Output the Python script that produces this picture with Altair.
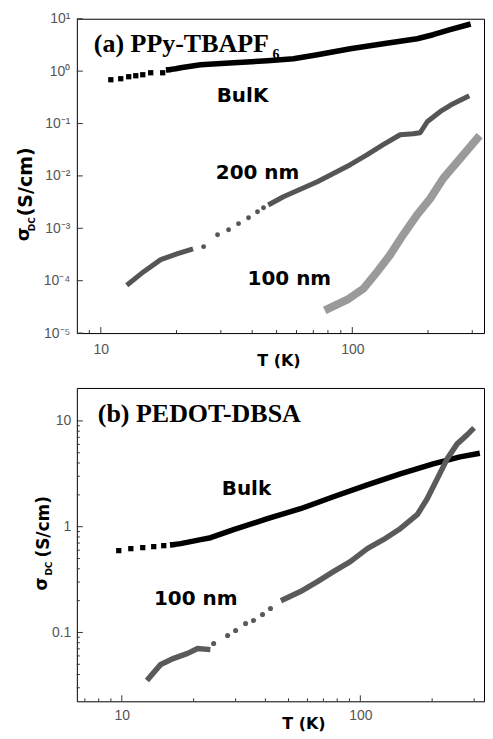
import altair as alt
import pandas as pd

# ---------------- Panel (a): PPy-TBAPF6 ----------------
a_bulk_sparse_T = [10.96, 12.0, 12.91, 13.77, 14.68, 15.79, 17.62, 18.62]
a_bulk_sparse_s = [0.685, 0.716, 0.782, 0.817, 0.853, 0.931, 0.931, 1.064]
a_bulk_T = [18.62, 19.85, 20.77, 24.94, 33.71, 45.98, 58.34, 72.62, 98.2, 132.7, 181.1, 209.5, 244.8, 288.5]
a_bulk_s = [1.064, 1.112, 1.161, 1.326, 1.445, 1.578, 1.725, 2.056, 2.675, 3.334, 4.15, 4.95, 6.17, 7.68]

a_200_T1 = [12.91, 14.81, 17.30, 20.21, 22.76]
a_200_s1 = [8.77e-5, 1.486e-4, 2.52e-4, 3.28e-4, 3.91e-4]
a_200_sparse_T = [25.63, 29.12, 32.21, 35.28, 38.67, 41.98, 44.35]
a_200_sparse_s = [4.46e-4, 7.55e-4, 9.40e-4, 1.225e-3, 1.592e-3, 2.075e-3, 2.47e-3]
a_200_T2 = [47.27, 53.22, 72.62, 98.2, 114.7, 132.7, 155.0, 174.6, 186.2, 198.6, 223.4, 251.8, 285.9]
a_200_s2 = [2.94e-3, 4.01e-3, 7.75e-3, 1.636e-2, 2.54e-2, 3.94e-2, 6.11e-2, 6.38e-2, 6.67e-2, 0.108, 0.168, 0.239, 0.324]

a_100_T = [80.3, 95.5, 110.6, 125.7, 141.5, 159.4, 181.1, 203.9, 229.6, 268.3, 313.3]
a_100_s = [2.92e-5, 4.34e-5, 7.03e-5, 1.486e-4, 3.13e-4, 7.55e-4, 1.82e-3, 3.67e-3, 8.85e-3, 2.13e-2, 5.13e-2]

a_labels = ["BulK", "200 nm", "100 nm"]
a_label_T = [36.6, 42.0, 56.2]
a_label_s = [0.34, 0.0115, 1.09e-4]

a_x_major = [10, 100]
a_x_minor = [9, 20, 30, 40, 50, 60, 70, 80, 90, 200, 300]
a_y_major = [1e-5, 1e-4, 1e-3, 1e-2, 1e-1, 1, 10]
a_y_ticklabels = ["10\u207b\u2075", "10\u207b\u2074", "10\u207b\u00b3", "10\u207b\u00b2", "10\u207b\u00b9", "10\u2070", "10\u00b9"]

# ---------------- Panel (b): PEDOT-DBSA ----------------
b_bulk_sparse_T = [9.71, 10.91, 12.24, 13.61, 14.99, 16.35]
b_bulk_sparse_s = [0.594, 0.620, 0.634, 0.648, 0.662, 0.677]
b_bulk_T = [16.35, 17.65, 21.41, 23.57, 29.42, 40.8, 56.1, 77.1, 107.0, 147.0, 202.0, 261.8, 308.8]
b_bulk_s = [0.677, 0.692, 0.754, 0.787, 0.937, 1.19, 1.479, 1.919, 2.49, 3.16, 3.93, 4.57, 4.89]

b_100_T1 = [12.97, 14.56, 16.51, 18.89, 20.8, 22.9]
b_100_s1 = [0.0368, 0.0499, 0.0569, 0.0634, 0.0706, 0.0692]
b_100_sparse_T = [24.27, 27.77, 29.99, 33.03, 35.67, 38.9, 42.0]
b_100_sparse_s = [0.0787, 0.0937, 0.1045, 0.1216, 0.1298, 0.1479, 0.1683]
b_100_T2 = [47.6, 56.1, 66.1, 77.1, 90.8, 107.0, 124.8, 147.0, 173.2, 190.7, 210.1, 231.2, 254.6, 280.4, 294.2]
b_100_s2 = [0.2047, 0.2437, 0.3029, 0.3759, 0.4677, 0.6197, 0.7534, 0.9574, 1.298, 1.837, 2.837, 4.38, 6.07, 7.38, 8.23]

b_labels = ["Bulk", "100 nm"]
b_label_T = [33.3, 20.4]
b_label_s = [2.28, 0.2094]

b_x_major = [10, 100]
b_x_minor = [7, 8, 9, 20, 30, 40, 50, 60, 70, 80, 90, 200, 300]
b_y_major = [0.1, 1, 10]
b_y_minor = [0.03, 0.04, 0.05, 0.06, 0.07, 0.08, 0.09,
             0.2, 0.3, 0.4, 0.5, 0.6, 0.7, 0.8, 0.9,
             2, 3, 4, 5, 6, 7, 8, 9]

# ---------------- layout / style ----------------
WA, HA = 408, 315
WB, HB = 408, 314
SANS = "DejaVu Sans"
LABEL_FONT = "Liberation Sans"
SERIF = "Liberation Serif"
TICK_COLOR = "#333333"


def df(T, s):
    return pd.DataFrame({"T": T, "s": s})


def build_panel(xs, ys, W, H, x_axis, y_axis, lines, points, labels, label_T, label_s,
                x_major, x_minor, y_major, y_minor, title_parts, ytitle):
    X = lambda: alt.X("T:Q", scale=xs, axis=x_axis)
    Y = lambda: alt.Y("s:Q", scale=ys, axis=y_axis)
    layers = []
    for (T, s, color, sw) in lines:
        layers.append(
            alt.Chart(df(T, s)).mark_line(color=color, strokeWidth=sw, strokeCap="square",
                                          strokeJoin="round")
            .encode(x=X(), y=Y(), order=alt.Order("T:Q"))
        )
    for (T, s, shape, color, size) in points:
        m = (alt.Chart(df(T, s)).mark_square(size=size, color=color, opacity=1)
             if shape == "square" else
             alt.Chart(df(T, s)).mark_circle(size=size, color=color, opacity=1))
        layers.append(m.encode(x=X(), y=Y()))
    # curve labels
    lab_df = pd.DataFrame({"T": label_T, "s": label_s, "t": labels})
    layers.append(
        alt.Chart(lab_df).mark_text(font=SANS, fontSize=20, fontWeight="bold", color="black",
                                    align="center", baseline="middle")
        .encode(x=X(), y=Y(), text="t:N")
    )
    # inward ticks
    for vals, ln in ((x_major, 6), (x_minor, 3)):
        if vals:
            layers.append(
                alt.Chart(pd.DataFrame({"T": vals})).mark_rule(color=TICK_COLOR, strokeWidth=1)
                .encode(x=X(), y=alt.value(H), y2=alt.value(H - ln))
            )
    for vals, ln in ((y_major, 6), (y_minor, 3)):
        if vals:
            layers.append(
                alt.Chart(pd.DataFrame({"s": vals})).mark_rule(color=TICK_COLOR, strokeWidth=1)
                .encode(y=Y(), x=alt.value(0), x2=alt.value(ln))
            )
    # panel titles and y-axis title pieces
    for (txt, px, py, font, size, weight, angle, align) in title_parts + ytitle:
        layers.append(
            alt.Chart(pd.DataFrame({"t": [txt]})).mark_text(
                font=font, fontSize=size, fontWeight=weight, color="black", align=align,
                baseline="alphabetic" if angle == 0 else "middle", angle=angle)
            .encode(x=alt.value(px), y=alt.value(py), text="t:N")
        )
    return alt.layer(*layers).properties(width=W, height=H)


# ----- panel (a) -----
xs_a = alt.Scale(type="log", domain=[8.03, 334.0], nice=False)
ys_a = alt.Scale(type="log", domain=[1e-5, 10], nice=False)
x_axis_a = alt.Axis(values=a_x_major, format="d", ticks=False, domain=False, grid=False,
                    labelFont=LABEL_FONT, labelFontSize=14, labelColor="#555555", labelPadding=9,
                    labelFlush=False,
                    title="T (K)", titleFont=SANS, titleFontSize=16, titleFontWeight="bold",
                    titleColor="black", titleX=202, titleY=32, titleBaseline="alphabetic")
y_expr_a = "[" + ",".join("'" + t + "'" for t in a_y_ticklabels) + "][round(log(datum.value)/LN10)+5]"
y_axis_a = alt.Axis(values=a_y_major, labelExpr=y_expr_a, ticks=False, domain=False, grid=False,
                    labelFont=LABEL_FONT, labelFontSize=14, labelColor="#555555", labelPadding=7,
                    title=None)

panel_a = build_panel(
    xs_a, ys_a, WA, HA, x_axis_a, y_axis_a,
    lines=[(a_bulk_T, a_bulk_s, "black", 5.5),
           (a_200_T1, a_200_s1, "#555555", 5),
           (a_200_T2, a_200_s2, "#555555", 5),
           (a_100_T, a_100_s, "#9a9a9a", 8)],
    points=[(a_bulk_sparse_T, a_bulk_sparse_s, "square", "black", 28),
            (a_200_sparse_T, a_200_sparse_s, "circle", "#555555", 24)],
    labels=a_labels, label_T=a_label_T, label_s=a_label_s,
    x_major=a_x_major, x_minor=a_x_minor, y_major=a_y_major, y_minor=[],
    title_parts=[("(a) PPy-TBAPF", 17, 33, SERIF, 26, "bold", 0, "left"),
                 ("6", 196, 40, SERIF, 14, "bold", 0, "left")],
    ytitle=[("\u03c3", -53, 223, SANS, 18, "bold", 270, "left"),
            ("DC", -45, 213, SANS, 9, "bold", 270, "left"),
            ("(S/cm)", -51, 198, SANS, 19, "bold", 270, "left")],
)

# ----- panel (b) -----
xs_b = alt.Scale(type="log", domain=[6.48, 330.0], nice=False)
ys_b = alt.Scale(type="log", domain=[0.02234, 20.5], nice=False)
x_axis_b = alt.Axis(values=b_x_major, format="d", ticks=False, domain=False, grid=False,
                    labelFont=LABEL_FONT, labelFontSize=14, labelColor="#555555", labelPadding=7,
                    labelFlush=False,
                    title="T (K)", titleFont=SANS, titleFontSize=16, titleFontWeight="bold",
                    titleColor="black", titleX=227, titleY=27, titleBaseline="alphabetic")
y_axis_b = alt.Axis(values=b_y_major, labelExpr="datum.value < 1 ? '0.1' : format(datum.value, 'd')",
                    ticks=False, domain=False, grid=False,
                    labelFont=LABEL_FONT, labelFontSize=14, labelColor="#555555", labelPadding=6,
                    title=None)

panel_b = build_panel(
    xs_b, ys_b, WB, HB, x_axis_b, y_axis_b,
    lines=[(b_bulk_T, b_bulk_s, "black", 5.5),
           (b_100_T1, b_100_s1, "#5a5a5a", 5.5),
           (b_100_T2, b_100_s2, "#5a5a5a", 5.5)],
    points=[(b_bulk_sparse_T, b_bulk_sparse_s, "square", "black", 28),
            (b_100_sparse_T, b_100_sparse_s, "circle", "#5a5a5a", 26)],
    labels=b_labels, label_T=b_label_T, label_s=b_label_s,
    x_major=b_x_major, x_minor=b_x_minor, y_major=b_y_major, y_minor=b_y_minor,
    title_parts=[("(b) PEDOT-DBSA", 21, 34, SERIF, 26, "bold", 0, "left")],
    ytitle=[("\u03c3", -34.5, 203, SANS, 17, "bold", 270, "left"),
            ("DC", -27.5, 188, SANS, 9, "bold", 270, "left"),
            ("(S/cm)", -32.5, 170, SANS, 17, "bold", 270, "left")],
)

chart = (
    alt.vconcat(panel_a, panel_b, spacing=18)
    .resolve_scale(x="independent", y="independent")
    .properties(padding={"left": 6, "top": 2, "right": 0, "bottom": 0})
    .configure_view(stroke="black", strokeWidth=1)
)

chart.save("out.html", embed_options={"renderer": "svg", "actions": False})
